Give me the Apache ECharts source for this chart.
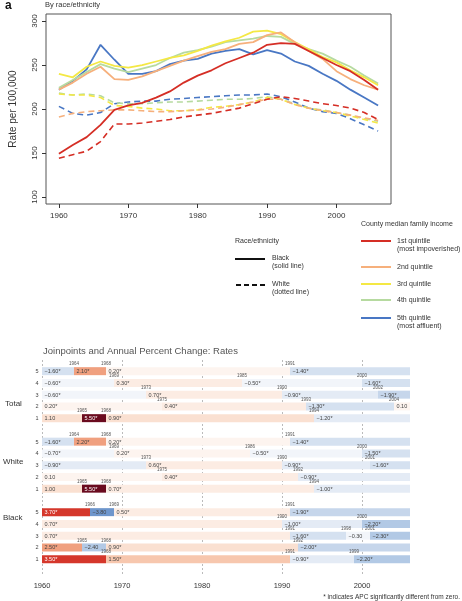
<!DOCTYPE html>
<html><head><meta charset="utf-8">
<script src="https://cdn.jsdelivr.net/npm/echarts@6/dist/echarts.min.js"></script>
<style>html,body{margin:0;padding:0;background:#fff}#c{width:462px;height:601px}</style>
</head><body><div id="c"></div>
<script>
// ---------- Panel a: rates by race/ethnicity and county income quintile ----------
const years = [1960,1962,1964,1966,1968,1970,1972,1974,1976,1978,1980,1982,1984,1986,1988,1990,1992,1994,1996,1998,2000,2002,2004,2006];
// Black (solid)
const blackQ1 = [149,159,168,182,199,204,207,213,220,230,238,244,252,258,264,273,275,274,266,258,250,243,233,222];
const blackQ2 = [222,230,240,248,234,233,237,243,249,255,260,265,268,274,276,284,287,276,266,257,243,234,227,222];
const blackQ3 = [240,236,248,254,249,247,250,254,258,261,266,272,277,281,288,289,285,276,268,259,253,244,236,227];
const blackQ4 = [224,233,242,251,246,242,246,250,258,264,267,271,276,278,280,283,282,274,268,263,255,248,238,229];
const blackQ5 = [222,232,245,273,256,240,240,243,251,255,257,263,266,268,262,267,263,254,249,240,232,222,213,204];
// White (dashed)
const whiteQ1 = [144,148,152,163,183,183,184,186,188,191,193,195,198,201,206,211,214,212,209,206,204,201,196,188];
const whiteQ2 = [191,195,197,198,199,199,198,197,197,198,199,200,202,205,208,211,211,205,201,198,196,193,190,187];
const whiteQ3 = [217,216,216,213,204,203,201,200,198,198,199,202,203,205,208,213,211,205,201,198,196,192,188,184];
const whiteQ4 = [218,216,217,215,207,206,206,207,208,208,209,210,211,211,212,214,211,206,201,199,196,193,189,186];
const whiteQ5 = [203,195,193,196,206,208,209,209,211,212,213,214,215,216,216,217,214,208,201,197,195,189,182,175];
const xTicks = [1960,1970,1980,1990,2000];
const yTicks = [100,150,200,250,300];
const quintileNames = ['1st quintile','2nd quintile','3rd quintile','4th quintile','5th quintile'];

// ---------- Panel b: joinpoints and annual percent change ----------
const jpStart = 1960, jpEnd = 2006;
const groupNames = ['Total','White','Black'];
const rowNumbers = [5,4,3,2,1];
const totalJoinpoints = [[1964,1968,1991],[1969,1985,2000],[1973,1990,2002],[1975,1993,2004],[1965,1968,1994]];
const totalAPC = [['−1.60*','2.10*','0.20*','−1.40*'],['−0.60*','0.30*','−0.50*','−1.60*'],['−0.60*','0.70*','−0.90*','−1.90*'],['0.20*','0.40*','−1.30*','0.10'],['1.10','5.50*','0.90*','−1.20*']];
const whiteJoinpoints = [[1964,1968,1991],[1969,1986,2000],[1973,1990,2001],[1975,1992],[1965,1968,1994]];
const whiteAPC = [['−1.60*','2.20*','0.20*','−1.40*'],['−0.70*','0.20*','−0.50*','−1.50*'],['−0.90*','0.60*','−0.90*','−1.60*'],['0.10','0.40*','−0.90*'],['1.00','5.50*','0.70*','−1.00*']];
const blackJoinpoints = [[1966,1969,1991],[1990,2000],[1991,1998,2001],[1965,1968,1992],[1968,1991,1999]];
const blackAPC = [['3.70*','−3.80','0.50*','−1.90*'],['0.70*','−1.00*','−2.20*'],['0.70*','−1.60*','−0.30','−2.30*'],['2.50*','−2.40','0.90*','−2.00*'],['3.50*','1.50*','−0.90*','−2.20*']];

const FONT = 'Liberation Sans, Arial, Helvetica, sans-serif';
const qColors = ['#d52e25','#f6b07c','#f4e844','#b6daa0','#4977c4'];

function apcColor(v){
  if (v >= 5) return '#6a0b1f';
  if (v >= 3) return '#d5372b';
  if (v >= 2) return '#f0a07f';
  if (v >= 1.2) return '#f7c7ae';
  if (v >= 0.8) return '#fae0d1';
  if (v >= 0.3) return '#fcece3';
  if (v >= 0) return '#fdf4ef';
  if (v > -0.8) return '#f2f5fa';
  if (v > -1.25) return '#e4ebf5';
  if (v > -1.75) return '#d5e1f0';
  if (v > -2.15) return '#c6d6eb';
  if (v > -3) return '#b2c9e5';
  return '#6e96cc';
}

const jpGroups = [[totalJoinpoints,totalAPC],[whiteJoinpoints,whiteAPC],[blackJoinpoints,blackAPC]];
const segs = [];
const rowLabels = [];
jpGroups.forEach(([jps, apcs], g) => {
  jps.forEach((jp, r) => {
    const slot = g*6 + r;
    rowLabels.push([jpStart, slot, rowNumbers[r]]);
    const bounds = [jpStart].concat(jp, [jpEnd]);
    for (let k = 0; k < bounds.length-1; k++) {
      const txt = apcs[r][k];
      segs.push({start: bounds[k], end: bounds[k+1], slot, txt,
        v: parseFloat(txt.replace('−','-').replace('*','')), year: k>0 ? bounds[k] : null});
    }
  });
});

const series = [];
[4,3,2,1,0].forEach(q => {
  const b = [blackQ1,blackQ2,blackQ3,blackQ4,blackQ5][q];
  const w = [whiteQ1,whiteQ2,whiteQ3,whiteQ4,whiteQ5][q];
  series.push({type:'line', name: quintileNames[q]+' Black', xAxisIndex:0, yAxisIndex:0, symbol:'none',
    data: years.map((y,i)=>[y,b[i]]), lineStyle:{color:qColors[q], width:1.8}, z:3});
  series.push({type:'line', name: quintileNames[q]+' White', xAxisIndex:0, yAxisIndex:0, symbol:'none',
    data: years.map((y,i)=>[y,w[i]]), lineStyle:{color:qColors[q], width:1.6, type:[6,4]}, z:2});
});

series.push({
  type:'custom', xAxisIndex:1, yAxisIndex:1, clip:false, z:5,
  data: segs.map(s => [s.start, s.end, s.slot]),
  encode:{x:[0,1], y:2},
  renderItem(params, api){
    const s = segs[params.dataIndex];
    const p0 = api.coord([s.start, s.slot]);
    const p1 = api.coord([s.end, s.slot]);
    const h = 8;
    const dark = s.v >= 3;
    const children = [
      {type:'rect', shape:{x:p0[0], y:p0[1]-h/2, width:p1[0]-p0[0], height:h}, style:{fill:apcColor(s.v)}},
      {type:'text', style:{text:s.txt, x:p0[0]+2.5, y:p0[1]+0.5, fill: dark ? '#ffffff' : '#444', fontSize:5.5, fontFamily:FONT, align:'left', verticalAlign:'middle'}}
    ];
    if (s.year !== null) {
      children.push({type:'text', style:{text:String(s.year), x:p0[0], y:p0[1]-7, fill:'#555', fontSize:4.5, fontFamily:FONT, align:'center', verticalAlign:'middle'}});
    }
    return {type:'group', children};
  }
});
series.push({
  type:'custom', xAxisIndex:1, yAxisIndex:1, clip:false, z:5,
  data: rowLabels,
  encode:{x:0, y:1},
  renderItem(params, api){
    const p = api.coord([api.value(0), api.value(1)]);
    return {type:'text', style:{text:String(rowLabels[params.dataIndex][2]), x:p[0]-5, y:p[1]+0.5, fill:'#444', fontSize:5.5, fontFamily:FONT, align:'center', verticalAlign:'middle'}};
  }
});

const T = (text, x, y, extra) => Object.assign({type:'text', x, y, style:Object.assign({text, fill:'#333', fontSize:7, fontFamily:FONT, verticalAlign:'middle', align:'left'}, extra||{})});
const L = (x1, x2, y, color, dash) => ({type:'line', shape:{x1, y1:y, x2, y2:y}, style:{stroke:color, lineWidth:2, lineDash:dash||null}});

const graphic = [
  T('a', 5, 6, {fontSize:12, fontWeight:'bold', fill:'#111'}),
  T('By race/ethnicity', 45, 5, {fontSize:7.5}),
  T('Race/ethnicity', 235, 241),
  L(235, 265, 259, '#111'),
  T('Black', 272, 258), T('(solid line)', 272, 266.5),
  L(236, 266, 285, '#111', [5,3]),
  T('White', 272, 284), T('(dotted line)', 272, 292.5),
  T('County median family income', 361, 224),
  L(361, 391, 241, qColors[0]), T('1st quintile', 397, 241), T('(most impoverished)', 397, 249.5),
  L(361, 391, 267, qColors[1]), T('2nd quintile', 397, 267),
  L(361, 391, 284, qColors[2]), T('3rd quintile', 397, 284),
  L(361, 391, 300, qColors[3]), T('4th quintile', 397, 300),
  L(361, 391, 318, qColors[4]), T('5th quintile', 397, 318), T('(most affluent)', 397, 326.5),
  T('Joinpoints and Annual Percent Change: Rates', 43, 351, {fontSize:9.5, fill:'#555'}),
  T(groupNames[0], 5, 404, {fontSize:8}),
  T(groupNames[1], 3, 462, {fontSize:8}),
  T(groupNames[2], 3, 518, {fontSize:8}),
  T('* indicates APC significantly different from zero.', 460, 597, {fontSize:6.5, align:'right'})
];

const yearFmt = v => String(Math.round(v));

const chart = echarts.init(document.getElementById('c'), null, {renderer:'canvas'});
chart.setOption({
  animation:false,
  backgroundColor:'#fff',
  textStyle:{fontFamily:FONT},
  graphic,
  grid:[
    {left:43, top:14, width:348, height:190, show:true, borderColor:'#555', borderWidth:1, backgroundColor:'transparent'},
    {left:42, top:360, right:36, bottom:26}
  ],
  xAxis:[
    {type:'value', gridIndex:0, min:1958.14, max:2007.86,
     axisLine:{show:false},
     axisTick:{show:true, customValues:xTicks, length:4, lineStyle:{color:'#333'}},
     axisLabel:{customValues:xTicks, formatter:yearFmt, fontSize:8, color:'#333', margin:8, fontFamily:FONT},
     splitLine:{show:false}},
    {type:'value', gridIndex:1, min:1960, max:2008, interval:10,
     axisLine:{show:false}, axisTick:{show:false},
     axisLabel:{customValues:xTicks, formatter:yearFmt, fontSize:7.5, color:'#333', margin:7, fontFamily:FONT},
     splitLine:{show:true, showMaxLine:false, lineStyle:{color:'#aaa', type:[2,2], width:0.8}}}
  ],
  yAxis:[
    {type:'value', gridIndex:0, min:92, max:308,
     name:'Rate per 100,000', nameLocation:'middle', nameGap:28, nameRotate:90,
     nameTextStyle:{fontSize:10, color:'#333', fontFamily:FONT},
     axisLine:{show:false},
     axisTick:{show:true, customValues:yTicks, length:4, lineStyle:{color:'#333'}},
     axisLabel:{customValues:yTicks, rotate:90, fontSize:8, color:'#333', margin:7, fontFamily:FONT},
     splitLine:{show:false}},
    {type:'value', gridIndex:1, min:-0.95, max:17.35, inverse:true, show:false, splitLine:{show:false}}
  ],
  series
});
</script></body></html>
